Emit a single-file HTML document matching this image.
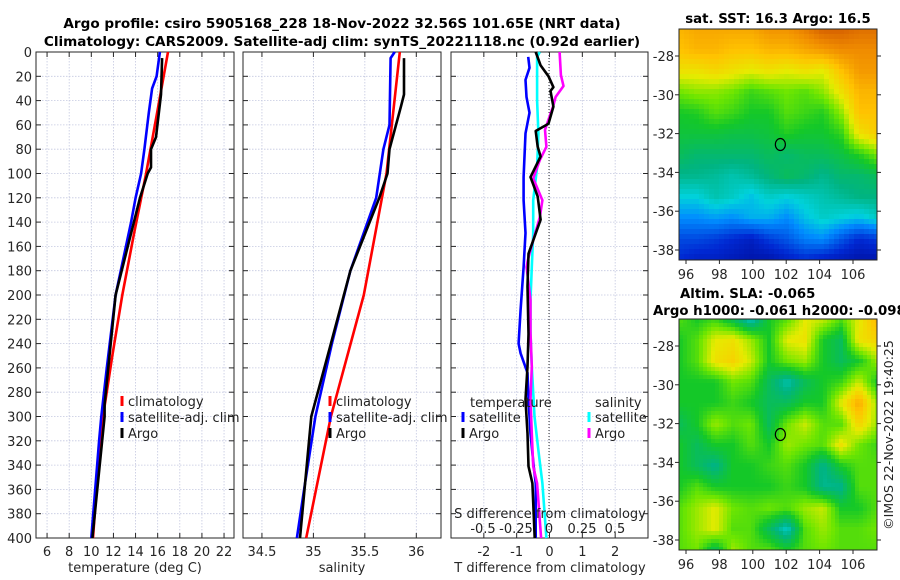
<!DOCTYPE html>
<html><head><meta charset="utf-8"><style>
html,body{margin:0;padding:0;background:#fff}
svg{display:block;font-family:"DejaVu Sans","Liberation Sans",sans-serif}
</style></head><body>
<svg id="fig" width="900" height="580" viewBox="0 0 900 580" xmlns="http://www.w3.org/2000/svg">
<text x="342" y="28" text-anchor="middle" font-size="13.6" font-weight="bold" fill="#000">Argo profile: csiro 5905168_228 18-Nov-2022 32.56S 101.65E (NRT data)</text>
<text x="342" y="46" text-anchor="middle" font-size="13.6" font-weight="bold" fill="#000">Climatology: CARS2009. Satellite-adj clim: synTS_20221118.nc (0.92d earlier)</text>
<text x="778" y="23" text-anchor="middle" font-size="13.3" font-weight="bold">sat. SST: 16.3 Argo: 16.5</text>
<text x="680" y="298" font-size="13.3" font-weight="bold">Altim. SLA: -0.065</text>
<text x="653" y="315" font-size="13.3" font-weight="bold">Argo h1000: -0.061 h2000: -0.098</text>
<text transform="translate(893,435) rotate(-90)" text-anchor="middle" font-size="12.5" fill="#222">©IMOS 22-Nov-2022 19:40:25</text>
<g id="plots"></g>
</svg>
<script>
// ---- profile data (depth in m) ----
const tClimDepth=[0,50,100,150,200,250,300,350,400];
const tClimVal=[16.93,15.95,14.95,13.85,12.8,11.9,11.06,10.55,10.15];
const tSatDepth=[0,20,30,50,80,100,120,140,200,260,300,320,400];
const tSatVal=[16.2,15.9,15.5,15.2,14.8,14.5,14.0,13.6,12.2,11.4,10.9,10.7,10.0];
const tArgoDepth=[5,35,70,80,95,100,120,200,290,300,400];
const tArgoVal=[16.4,16.3,15.85,15.4,15.4,15.1,14.4,12.2,11.2,11.2,10.1];
const sClimDepth=[0,100,200,300,400];
const sClimVal=[35.84,35.71,35.49,35.17,34.93];
const sSatDepth=[0,5,60,80,120,180,240,300,360,400];
const sSatVal=[35.79,35.75,35.74,35.68,35.61,35.36,35.18,35.02,34.91,34.84];
const sArgoDepth=[5,35,45,80,100,120,180,240,300,400];
const sArgoVal=[35.88,35.88,35.85,35.74,35.72,35.64,35.36,35.17,34.98,34.87];
const dTSatDepth=[4,13,23,37,50,67,103,122,149,177,212,240,248,264,286,314,341,355,400];
const dTSatVal=[-0.65,-0.61,-0.73,-0.7,-0.61,-0.73,-0.79,-0.79,-0.73,-0.79,-0.88,-0.94,-0.88,-0.67,-0.64,-0.58,-0.48,-0.42,-0.42];
const dTArgoDepth=[0,11,20,29,32,45,59,65,78,86,103,119,138,166,193,232,259,286,314,341,355,400];
const dTArgoVal=[-0.42,-0.27,-0.03,0.12,0.03,0.12,-0.03,-0.42,-0.36,-0.27,-0.58,-0.36,-0.27,-0.64,-0.67,-0.64,-0.67,-0.73,-0.67,-0.64,-0.52,-0.45];
const dSSatDepth=[0,4,40,67,95,122,149,177,204,231,259,300,328,355,400];
const dSSatVal=[-0.07,-0.09,-0.09,-0.08,-0.09,-0.12,-0.12,-0.13,-0.14,-0.14,-0.13,-0.11,-0.08,-0.05,-0.02];
const dSArgoDepth=[0,19,28,37,45,64,78,89,104,122,136,155,171,177,204,231,259,286,314,341,355,400];
const dSArgoVal=[0.08,0.09,0.11,0.05,0.03,-0.03,-0.02,-0.07,-0.12,-0.05,-0.07,-0.12,-0.16,-0.17,-0.14,-0.14,-0.13,-0.14,-0.13,-0.12,-0.09,-0.06];
const depthTicks=[0,20,40,60,80,100,120,140,160,180,200,220,240,260,280,300,320,340,360,380,400];
const tTicks=[6,8,10,12,14,16,18,20,22];
const sTicks=[34.5,35,35.5,36];
const dTTicks=[-2,-1,0,1,2];
const dSTicks=[-0.5,-0.25,0,0.25,0.5];
const dSTickLabels=["-0.5","-0.25","0","0.25","0.5"];
// ---- map grids (colormap fraction 0..1), rows north->south ----
const sstGrid=[
[.80,.82,.82,.82,.82,.85,.85,.88,.92,.92,.90,.90],
[.78,.80,.80,.78,.78,.80,.80,.82,.84,.86,.86,.86],
[.72,.72,.74,.72,.70,.72,.70,.72,.70,.78,.84,.84],
[.62,.64,.64,.62,.58,.60,.62,.60,.64,.72,.80,.80],
[.55,.56,.60,.58,.55,.55,.60,.58,.56,.64,.78,.78],
[.53,.53,.53,.52,.52,.53,.56,.54,.54,.57,.72,.76],
[.50,.48,.48,.48,.48,.50,.48,.50,.50,.52,.56,.62],
[.45,.45,.44,.42,.44,.47,.50,.48,.45,.48,.48,.50],
[.38,.38,.42,.40,.36,.40,.38,.40,.42,.44,.46,.46],
[.30,.30,.32,.30,.34,.34,.30,.36,.40,.38,.36,.40],
[.20,.20,.18,.15,.12,.18,.22,.28,.30,.22,.15,.18],
[.15,.12,.12,.10,.08,.08,.12,.15,.12,.10,.08,.08]];
const slaGrid=[
[.60,.55,.58,.50,.40,.55,.60,.70,.68,.60,.70,.80],
[.55,.60,.70,.72,.65,.55,.70,.72,.55,.50,.72,.75],
[.55,.60,.72,.75,.68,.55,.62,.65,.55,.50,.55,.65],
[.55,.55,.55,.62,.60,.50,.42,.50,.55,.58,.68,.55],
[.55,.55,.55,.58,.55,.50,.50,.55,.55,.70,.82,.65],
[.50,.55,.65,.60,.62,.50,.62,.68,.60,.60,.75,.65],
[.55,.50,.55,.55,.60,.55,.65,.62,.60,.72,.62,.58],
[.55,.50,.45,.55,.55,.58,.60,.55,.45,.55,.60,.60],
[.55,.60,.55,.55,.55,.55,.58,.55,.45,.45,.60,.60],
[.60,.65,.70,.62,.60,.62,.60,.65,.68,.55,.55,.60],
[.60,.65,.70,.60,.60,.50,.40,.60,.65,.60,.60,.62],
[.60,.62,.50,.65,.60,.60,.55,.60,.62,.60,.60,.60]];
const lonTicks=[96,98,100,102,104,106];
const latTicks=[-28,-30,-32,-34,-36,-38];
const argoLon=101.65, argoLat=-32.56;

const NS="http://www.w3.org/2000/svg";
const root=document.getElementById('plots');
function mk(tag,attrs,parent){const e=document.createElementNS(NS,tag);for(const k in attrs)e.setAttribute(k,attrs[k]);(parent||root).appendChild(e);return e;}
function txt(x,y,s,attrs,parent){const e=mk('text',Object.assign({x:x,y:y,'font-size':13,fill:'#262626'},attrs||{}),parent);e.textContent=s;return e;}

const PT=52,PB=538;
const yD=d=>PT+(PB-PT)*d/400;

function panel(name,x0,x1,vmin,vmax,ticks,labels,showY){
  const g=mk('g',{});
  
  
  const sx=v=>x0+(x1-x0)*(v-vmin)/(vmax-vmin);
  depthTicks.forEach(d=>{
    const l=mk('line',{x1:x0,x2:x1,y1:yD(d),y2:yD(d),stroke:'#c4c8e0','stroke-width':0.8,'stroke-dasharray':'1.5,1.5'},g);
    
    
    mk('line',{x1:x0,x2:x0+5,y1:yD(d),y2:yD(d),stroke:'#262626'},g);
    mk('line',{x1:x1-5,x2:x1,y1:yD(d),y2:yD(d),stroke:'#262626'},g);
    if(showY){const t=txt(x0-4,yD(d)+5,String(d),{'text-anchor':'end'},g);
      
      }
  });
  ticks.forEach((v,i)=>{
    const l=mk('line',{x1:sx(v),x2:sx(v),y1:PT,y2:PB,stroke:'#c4c8e0','stroke-width':0.8,'stroke-dasharray':'1.5,1.5'},g);
    
    
    mk('line',{x1:sx(v),x2:sx(v),y1:PB-5,y2:PB,stroke:'#262626'},g);
    mk('line',{x1:sx(v),x2:sx(v),y1:PT,y2:PT+5,stroke:'#262626'},g);
    const t=txt(sx(v),PB+18,labels?labels[i]:String(v),{'text-anchor':'middle'},g);
    
    
  });
  const r=mk('rect',{x:x0,y:PT,width:x1-x0,height:PB-PT,fill:'none',stroke:'#262626','stroke-width':1},g);
  
  
  return {g,sx};
}
function line(p,depths,vals,color,name,w){
  const pts=depths.map((d,i)=>p.sx(vals[i]).toFixed(1)+','+yD(d).toFixed(1)).join(' ');
  const l=mk('polyline',{points:pts,fill:'none',stroke:color,'stroke-width':w||2.6,'stroke-linejoin':'round'},p.g);
  
  
}
function legendEntry(g,x,y,color,label,name){
  const e=mk('g',{},g);
  
  
  mk('line',{x1:x,x2:x,y1:y-10,y2:y,stroke:color,'stroke-width':3},e);
  txt(x+6,y,label,{fill:'#222'},e);
}

// Panel 1 temperature
const p1=panel('temperature-panel',36,234,5,22.9,tTicks,null,true);
line(p1,tClimDepth,tClimVal,'#f00','temp-climatology-line');
line(p1,tSatDepth,tSatVal,'#00f','temp-satellite-line');
line(p1,tArgoDepth,tArgoVal,'#000','temp-argo-line');
legendEntry(p1.g,122,406,'#f00','climatology','legend-climatology');
legendEntry(p1.g,122,422,'#00f','satellite-adj. clim','legend-satellite');
legendEntry(p1.g,122,438,'#000','Argo','legend-argo');
txt(135,572,'temperature (deg C)',{'text-anchor':'middle'},p1.g);

// Panel 2 salinity
const p2=panel('salinity-panel',243,441,34.316,36.24,sTicks,null,false);
line(p2,sClimDepth,sClimVal,'#f00','sal-climatology-line');
line(p2,sSatDepth,sSatVal,'#00f','sal-satellite-line');
line(p2,sArgoDepth,sArgoVal,'#000','sal-argo-line');
legendEntry(p2.g,330,406,'#f00','climatology','legend-climatology');
legendEntry(p2.g,330,422,'#00f','satellite-adj. clim','legend-satellite');
legendEntry(p2.g,330,438,'#000','Argo','legend-argo');
txt(342,572,'salinity',{'text-anchor':'middle'},p2.g);

// Panel 3 differences
const p3=panel('difference-panel',451,648,-3,3,dTTicks,null,false);
const sxS=v=>549+132*v;
mk('line',{x1:549,x2:549,y1:PT,y2:PB,stroke:'#333','stroke-width':1,'stroke-dasharray':'1,2'},p3.g);
const p3s={g:p3.g,sx:sxS};
line(p3,dTSatDepth,dTSatVal,'#00f','dT-satellite-line');
line(p3s,dSSatDepth,dSSatVal,'#0ff','dS-satellite-line');
line(p3s,dSArgoDepth,dSArgoVal,'#f0f','dS-argo-line');
line(p3,dTArgoDepth,dTArgoVal,'#000','dT-argo-line');
txt(470,407,'temperature',{fill:'#222'},p3.g);
legendEntry(p3.g,463,422,'#00f','satellite','legend-t-satellite');
legendEntry(p3.g,463,438,'#000','Argo','legend-t-argo');
txt(595,407,'salinity',{fill:'#222'},p3.g);
legendEntry(p3.g,589,422,'#0ff','satellite','legend-s-satellite');
legendEntry(p3.g,589,438,'#f0f','Argo','legend-s-argo');
txt(550,518,'S difference from climatology',{'text-anchor':'middle',fill:'#222'},p3.g);
dSTicks.forEach((v,i)=>{const t=txt(sxS(v),533,dSTickLabels[i],{'text-anchor':'middle',fill:'#222'},p3.g);
  
  });
txt(550,572,'T difference from climatology',{'text-anchor':'middle'},p3.g);

// ---- maps ----
const cstops=[[0,[0,0,128]],[.15,[0,40,210]],[.3,[0,140,255]],[.38,[0,210,220]],[.46,[0,180,130]],[.55,[20,200,40]],[.62,[110,230,0]],[.7,[230,235,0]],[.78,[255,195,0]],[.86,[240,140,0]],[.93,[210,90,0]],[1,[170,30,0]]];
function cmap(v){v=Math.max(0,Math.min(1,v));for(let i=1;i<cstops.length;i++){if(v<=cstops[i][0]){const a=cstops[i-1],b=cstops[i];const f=(v-a[0])/(b[0]-a[0]);const c=a[1].map((q,k)=>Math.round(q+(b[1][k]-q)*f));return 'rgb('+c+')';}}return 'rgb(170,30,0)';}
function map(name,grid,top,bottom,yLat28,yLat38,smooth){
  const x0=679,x1=877;
  const g=mk('g',{});
  
  
  const lonX=l=>686+(l-96)*16.7;
  const latY=l=>yLat28+(l+28)*(yLat38-yLat28)/(-10);
  const R=grid.length,C=grid[0].length;
  const cell=smooth?4:5;
  for(let y=top;y<bottom;y+=cell){for(let x=x0;x<x1;x+=cell){
    const gx=(x+cell/2-x0)/(x1-x0)*(C-1), gy=(y+cell/2-top)/(bottom-top)*(R-1);
    const i=Math.min(Math.floor(gy),R-2), j=Math.min(Math.floor(gx),C-2);
    const fy=gy-i, fx=gx-j;
    const v=grid[i][j]*(1-fx)*(1-fy)+grid[i][j+1]*fx*(1-fy)+grid[i+1][j]*(1-fx)*fy+grid[i+1][j+1]*fx*fy;
    mk('rect',{x:x,y:y,width:Math.min(cell,x1-x)+0.3,height:Math.min(cell,bottom-y)+0.3,fill:cmap(v)},g);
  }}
  mk('rect',{x:x0,y:top,width:x1-x0,height:bottom-top,fill:'none',stroke:'#262626'},g);
  lonTicks.forEach(l=>{mk('line',{x1:lonX(l),x2:lonX(l),y1:bottom,y2:bottom+4,stroke:'#262626'},g);
    const t=txt(lonX(l),bottom+19,String(l),{'text-anchor':'middle'},g);
    
    });
  latTicks.forEach(l=>{mk('line',{x1:x0-4,x2:x0,y1:latY(l),y2:latY(l),stroke:'#262626'},g);
    mk('line',{x1:x1,x2:x1+4,y1:latY(l),y2:latY(l),stroke:'#262626'},g);
    const t=txt(x0-5,latY(l)+5,String(l),{'text-anchor':'end'},g);
    
    });
  const c=mk('ellipse',{cx:lonX(argoLon),cy:latY(argoLat),rx:5,ry:6,fill:'none',stroke:'#000','stroke-width':1.2},g);
  
  
}
map('sst-map',sstGrid,29,260,56,250,false);
map('sla-map',slaGrid,319,550,346,540,true);
</script>
</body></html>
